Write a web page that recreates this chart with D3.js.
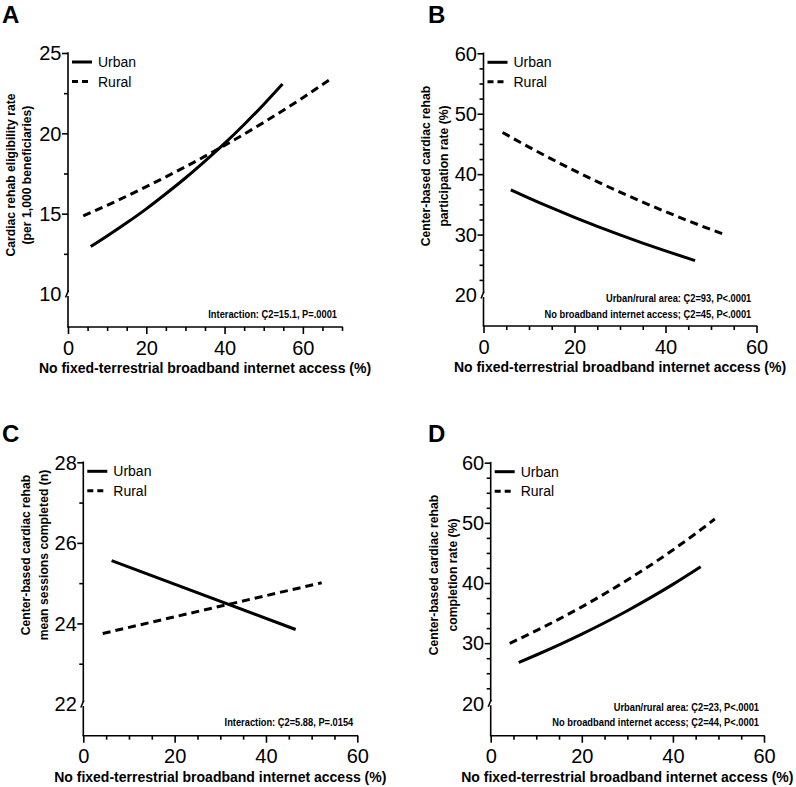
<!DOCTYPE html>
<html>
<head>
<meta charset="utf-8">
<script src="https://cdn.jsdelivr.net/npm/d3@7"></script>
<style>
  html, body { margin: 0; padding: 0; background: #fff; }
  svg { display: block; font-family: "Liberation Sans", Arial, sans-serif; }
</style>
</head>
<body>
<svg id="chart" width="796" height="787"></svg>
<script>
// ---------------- DATA ----------------
const panelLetters = ["A", "B", "C", "D"];
const seriesNames = ["Urban", "Rural"];
const xTitle = "No fixed-terrestrial broadband internet access (%)";

const yTitlesA = ["Cardiac rehab eligibility rate", "(per 1,000 beneficiaries)"];
const yTitlesB = ["Center-based cardiac rehab", "participation rate (%)"];
const yTitlesC = ["Center-based cardiac rehab", "mean sessions completed (n)"];
const yTitlesD = ["Center-based cardiac rehab", "completion rate (%)"];

const notesA = ["Interaction: Ç2=15.1, P=.0001"];
const notesB = ["Urban/rural area: Ç2=93, P<.0001", "No broadband internet access; Ç2=45, P<.0001"];
const notesC = ["Interaction: Ç2=5.88, P=.0154"];
const notesD = ["Urban/rural area: Ç2=23, P<.0001", "No broadband internet access; Ç2=44, P<.0001"];

const xTicksA = [0, 20, 40, 60];
const xTicks60 = [0, 20, 40, 60];
const yTicksA = [10, 15, 20, 25];
const yTicksB = [20, 30, 40, 50, 60];
const yTicksC = [22, 24, 26, 28];
const yTicksD = [20, 30, 40, 50, 60];

// Panel A: eligibility rate
const aUrbanX = [5.8, 10, 15, 20, 25, 30, 35, 40, 45, 50, 54.8];
const aUrbanY = [12.95, 13.61, 14.43, 15.30, 16.24, 17.22, 18.27, 19.37, 20.55, 21.80, 23.07];
const aRuralX = [3.9, 10, 20, 30, 40, 50, 60, 67.2];
const aRuralY = [14.86, 15.52, 16.68, 17.92, 19.25, 20.68, 22.22, 23.4];

// Panel B: participation rate
const bUrbanX = [6, 10, 15, 20, 25, 30, 35, 40, 46.5];
const bUrbanY = [37.4, 36.04, 34.41, 32.85, 31.37, 29.95, 28.59, 27.30, 25.7];
const bRuralX = [4.2, 10, 15, 20, 25, 30, 35, 40, 45, 53.1];
const bRuralY = [46.9, 44.48, 42.48, 40.58, 38.76, 37.03, 35.37, 33.79, 32.28, 29.97];

// Panel C: mean sessions
const cUrbanX = [6.2, 46.5];
const cUrbanY = [25.56, 23.85];
const cRuralX = [4.25, 52.2];
const cRuralY = [23.75, 25.01];

// Panel D: completion rate
const dUrbanX = [6.15, 10, 15, 20, 25, 30, 35, 40, 46.1];
const dUrbanY = [26.8, 28.03, 29.71, 31.50, 33.39, 35.39, 37.52, 39.77, 42.7];
const dRuralX = [4.17, 10, 15, 20, 25, 30, 35, 40, 45, 49.2];
const dRuralY = [29.97, 32.08, 34.0, 36.04, 38.20, 40.50, 42.92, 45.50, 48.22, 50.64];

// ---------------- LAYOUT ----------------
const zip = (xs, ys) => xs.map((x, i) => ({ x: x, y: ys[i] }));

const panels = [
  { letter: panelLetters[0], lx: 2, ly: 23,
    left: 68, right: 342, top: 53, bottom: 294, axisY: 327,
    xMax: 70, xTicks: xTicksA, yTicks: yTicksA, yMinorStep: 2.5,
    yTitle: yTitlesA, tx: [10.5, 27], ty: 175,
    notes: notesA, noteRight: 337, noteBase: [317.5],
    urban: zip(aUrbanX, aUrbanY), rural: zip(aRuralX, aRuralY) },
  { letter: panelLetters[1], lx: 428, ly: 23,
    left: 483.5, right: 756.5, top: 53.3, bottom: 295, axisY: 326,
    xMax: 60, xTicks: xTicks60, yTicks: yTicksB, yMinorStep: 2.5,
    yTitle: yTitlesB, tx: [426, 444], ty: 166,
    notes: notesB, noteRight: 751.3, noteBase: [302, 317.5],
    urban: zip(bUrbanX, bUrbanY), rural: zip(bRuralX, bRuralY) },
  { letter: panelLetters[2], lx: 2, ly: 442,
    left: 83.3, right: 357.3, top: 462.3, bottom: 704, axisY: 735.7,
    xMax: 60, xTicks: xTicks60, yTicks: yTicksC, yMinorStep: 1,
    yTitle: yTitlesC, tx: [26, 44], ty: 555,
    notes: notesC, noteRight: 353.3, noteBase: [725.5],
    urban: zip(cUrbanX, cUrbanY), rural: zip(cRuralX, cRuralY) },
  { letter: panelLetters[3], lx: 428, ly: 442,
    left: 490.7, right: 764, top: 462.7, bottom: 703.3, axisY: 735.7,
    xMax: 60, xTicks: xTicks60, yTicks: yTicksD, yMinorStep: 2.5,
    yTitle: yTitlesD, tx: [434, 452.5], ty: 575,
    notes: notesD, noteRight: 759, noteBase: [711, 726],
    urban: zip(dUrbanX, dUrbanY), rural: zip(dRuralX, dRuralY) }
];

const svg = d3.select("#chart");
const AX = 1.6;
const NOTE_CONDENSE = 0.93;

panels.forEach(p => {
  const g = svg.append("g");
  const yMin = d3.min(p.yTicks), yMax = d3.max(p.yTicks);
  const x = d3.scaleLinear().domain([0, p.xMax]).range([p.left, p.right]);
  const y = d3.scaleLinear().domain([yMin, yMax]).range([p.bottom, p.top]);

  // panel letter
  g.append("text").attr("x", p.lx).attr("y", p.ly)
    .attr("font-size", 24).attr("font-weight", "bold").text(p.letter);

  // ----- y axis -----
  const yMinor = d3.range(yMin, yMax + 1e-9, p.yMinorStep).filter(v => !p.yTicks.includes(v));
  const yMinorAxis = d3.axisLeft(y).tickValues(yMinor).tickSize(4).tickFormat("");
  const yMajorAxis = d3.axisLeft(y).tickValues(p.yTicks.filter(v => v !== yMin)).tickSize(6).tickFormat("");
  [yMinorAxis, yMajorAxis].forEach(ax => {
    const a = g.append("g").attr("transform", `translate(${p.left},0)`).call(ax);
    a.select(".domain").remove();
    a.selectAll("line").attr("stroke", "#000").attr("stroke-width", AX);
  });
  g.selectAll(null).data(p.yTicks).enter().append("text")
    .attr("x", p.left - 6.5).attr("y", d => y(d)).attr("dy", "0.36em")
    .attr("text-anchor", "end").attr("font-size", 20).text(d => d);
  // axis line with break
  g.append("line").attr("x1", p.left).attr("x2", p.left)
    .attr("y1", y(yMax) - AX / 2).attr("y2", y(yMin) - 2)
    .attr("stroke", "#000").attr("stroke-width", AX);
  g.append("line").attr("x1", p.left).attr("x2", p.left)
    .attr("y1", y(yMin) + 2).attr("y2", p.axisY)
    .attr("stroke", "#000").attr("stroke-width", AX);
  g.append("line").attr("x1", p.left - 2.5).attr("x2", p.left + 0.5)
    .attr("y1", y(yMin) + 3.5).attr("y2", y(yMin) - 3.5)
    .attr("stroke", "#000").attr("stroke-width", AX);

  // ----- x axis -----
  const xMinor = d3.range(0, p.xMax + 1e-9, 5).filter(v => !p.xTicks.includes(v));
  const xa1 = g.append("g").attr("transform", `translate(0,${p.axisY})`)
    .call(d3.axisBottom(x).tickValues(xMinor).tickSize(4).tickSizeOuter(0).tickFormat(""));
  xa1.select(".domain").remove();
  const xa2 = g.append("g").attr("transform", `translate(0,${p.axisY})`)
    .call(d3.axisBottom(x).tickValues(p.xTicks).tickSize(7).tickSizeOuter(0).tickPadding(6));
  xa2.select(".domain").attr("stroke-width", AX).attr("d", `M${p.left - AX / 2},0H${x(p.xMax) + AX / 2}`);
  [xa1, xa2].forEach(a => a.selectAll("line").attr("stroke", "#000").attr("stroke-width", AX));
  xa2.selectAll("text").attr("font-size", 20).attr("fill", "#000")
    .attr("font-family", "'Liberation Sans', Arial, sans-serif").attr("dy", "0.74em");

  g.append("text").attr("x", (p.left + p.right) / 2).attr("y", p.axisY + 46)
    .attr("text-anchor", "middle").attr("font-size", 14).attr("font-weight", "bold")
    .text(xTitle);

  // ----- y title -----
  p.yTitle.forEach((t, i) => {
    g.append("text")
      .attr("transform", `translate(${p.tx[i]},${p.ty}) rotate(-90)`)
      .attr("text-anchor", "middle").attr("dy", "0.36em")
      .attr("font-size", 12.2).attr("font-weight", "bold").text(t);
  });

  // ----- notes (condensed bold) -----
  p.notes.forEach((t, i) => {
    const nt = g.append("text").attr("x", p.noteRight).attr("y", p.noteBase[i])
      .attr("text-anchor", "end")
      .attr("font-size", 10).attr("font-weight", "bold").text(t);
    const w = nt.node().getComputedTextLength();
    nt.attr("textLength", w * NOTE_CONDENSE).attr("lengthAdjust", "spacingAndGlyphs");
  });

  // ----- curves -----
  const line = d3.line().x(d => x(d.x)).y(d => y(d.y)).curve(d3.curveMonotoneX);
  g.append("path").datum(p.rural).attr("d", line)
    .attr("fill", "none").attr("stroke", "#000").attr("stroke-width", 3)
    .attr("stroke-dasharray", "8,5");
  g.append("path").datum(p.urban).attr("d", line)
    .attr("fill", "none").attr("stroke", "#000").attr("stroke-width", 3);

  // ----- legend -----
  seriesNames.forEach((s, i) => {
    const ly = p.top + 9 + i * 19.5;
    g.append("line").attr("x1", p.left + 4).attr("x2", p.left + 24)
      .attr("y1", ly).attr("y2", ly).attr("stroke", "#000").attr("stroke-width", 3)
      .attr("stroke-dasharray", i === 0 ? null : "6,4");
    g.append("text").attr("x", p.left + 30).attr("y", ly).attr("dy", "0.36em")
      .attr("font-size", 14).text(s);
  });
});
</script>
</body>
</html>
